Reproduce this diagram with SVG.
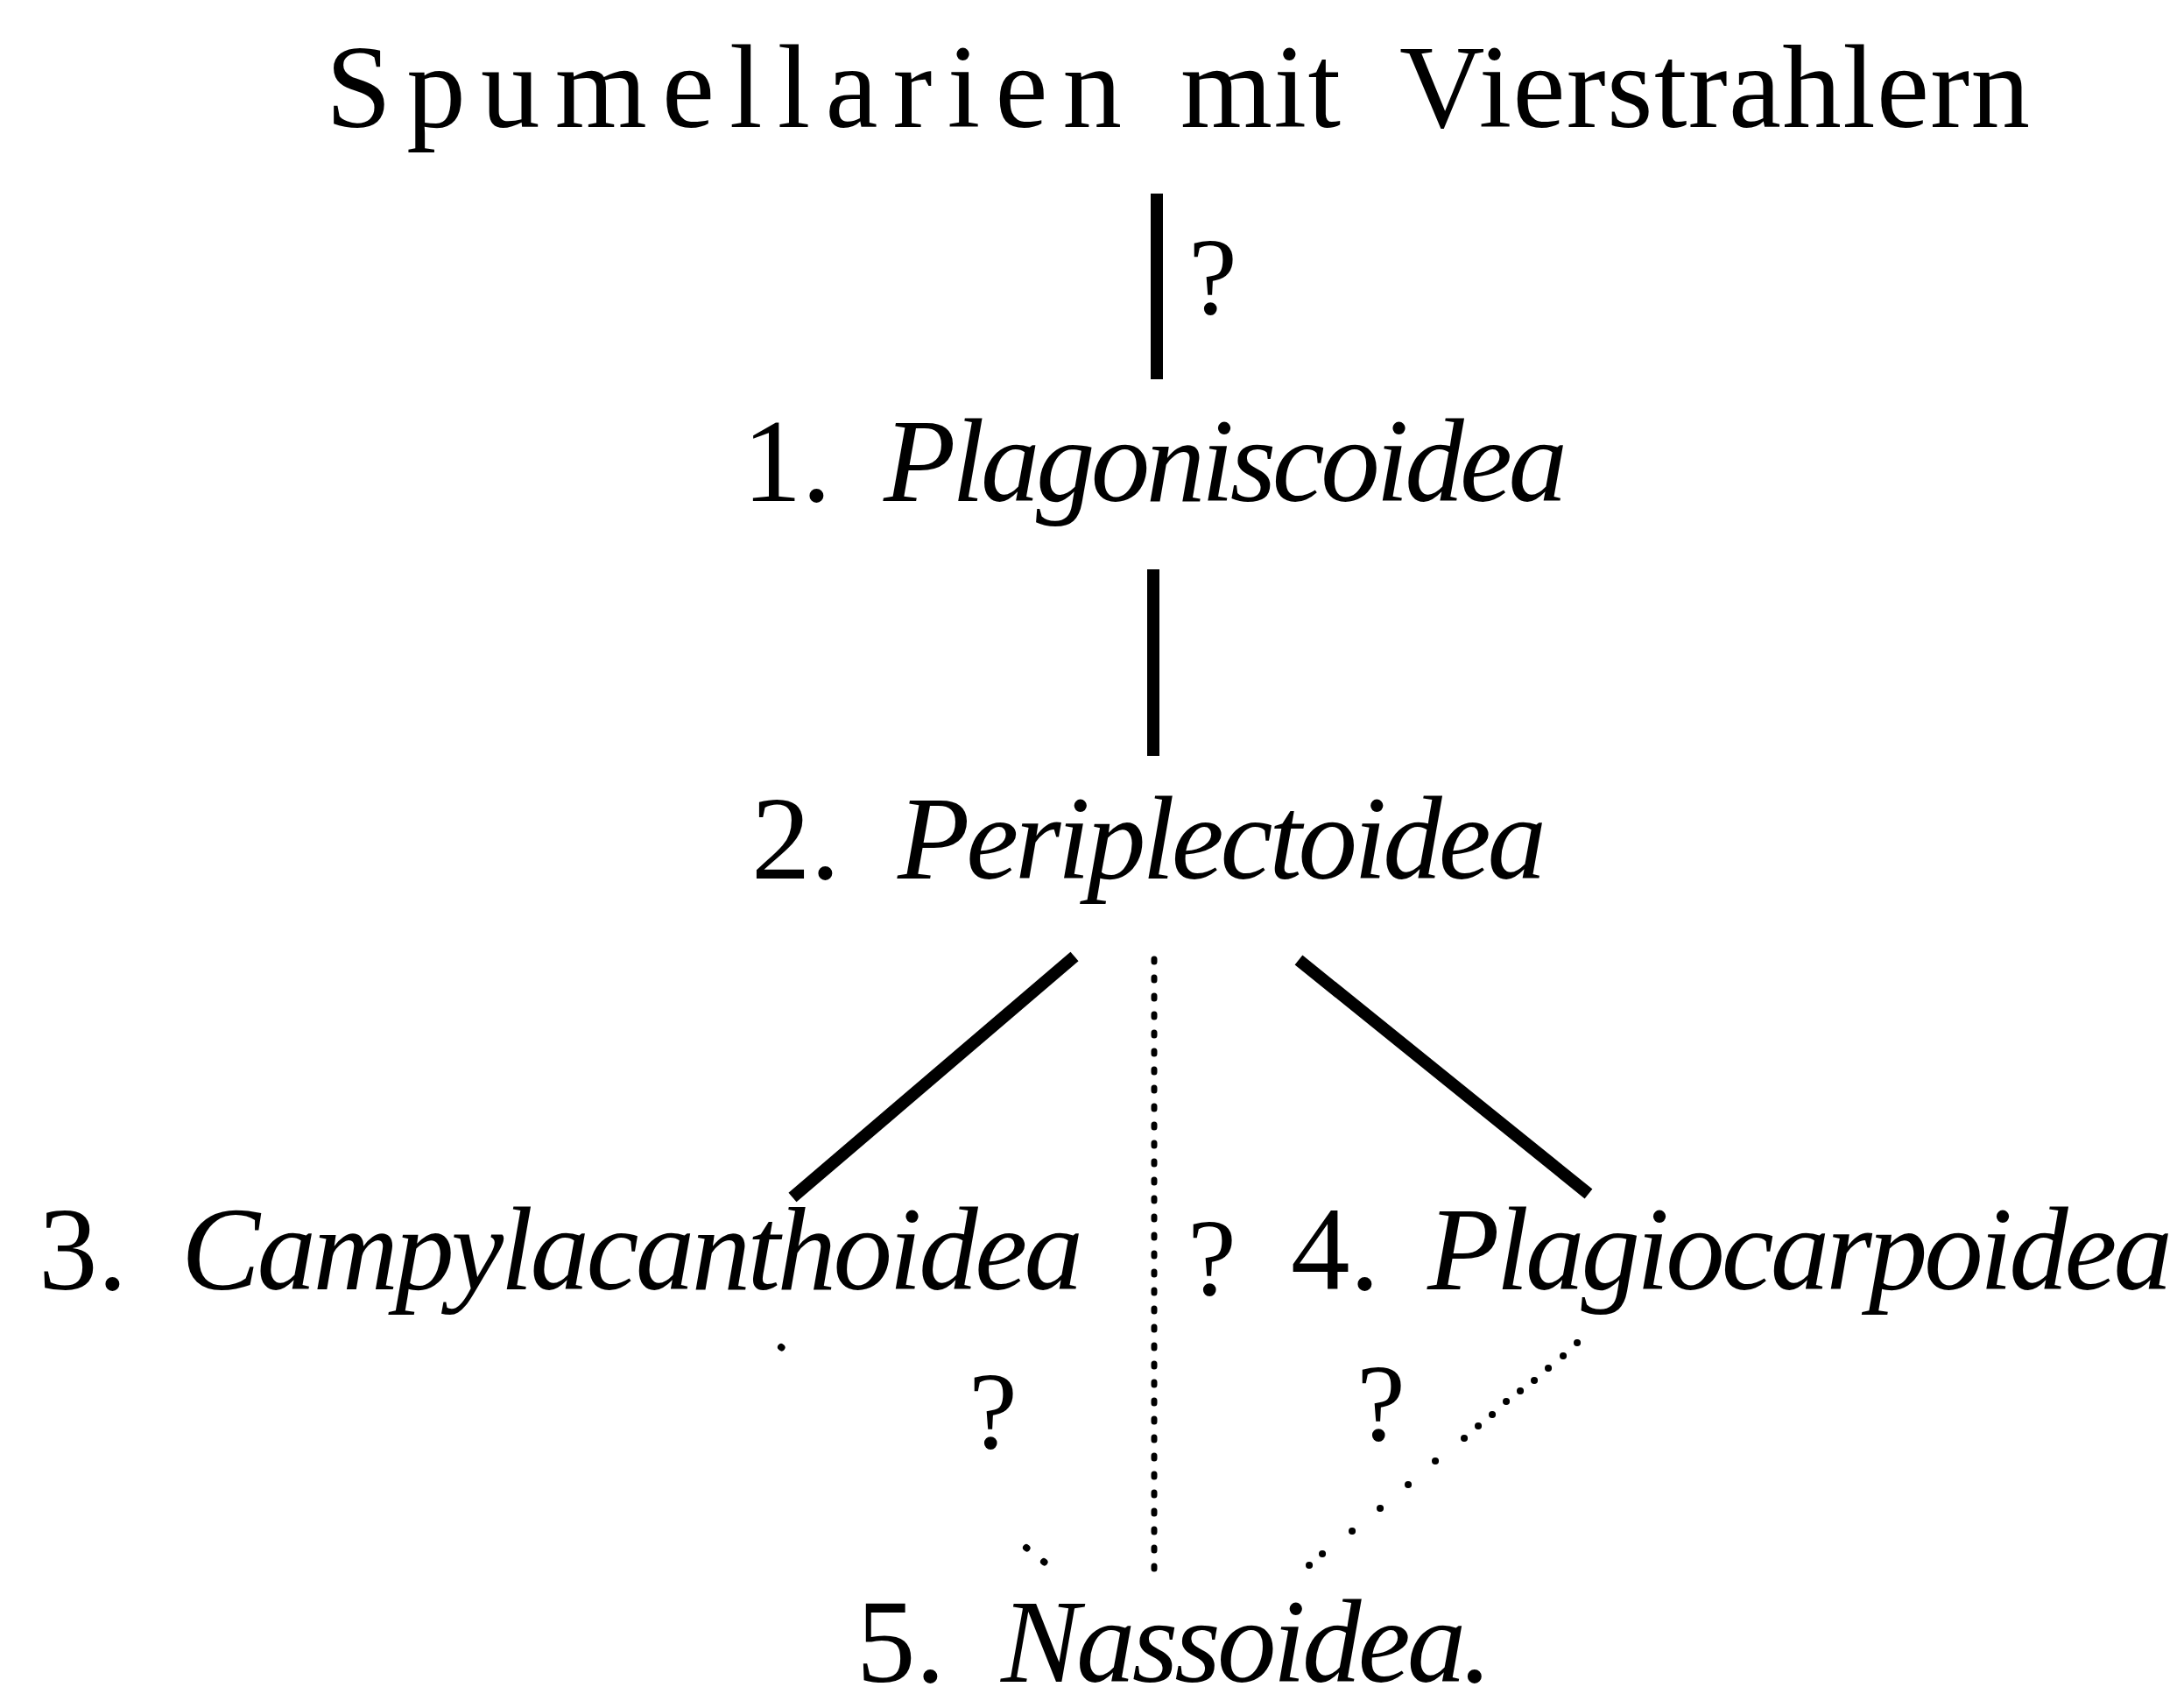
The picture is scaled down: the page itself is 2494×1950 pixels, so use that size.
<svg xmlns="http://www.w3.org/2000/svg" width="2494" height="1950" viewBox="0 0 2494 1950">
<style>
text { font-family: "Liberation Serif", "DejaVu Serif", serif; font-size: 135px; fill: #000; }
.it { font-style: italic; }
.q { font-size: 125px; text-anchor: middle; }
.solid { stroke: #000; stroke-width: 14; fill: none; stroke-linecap: butt; }
.dotv { stroke: #000; stroke-width: 7; fill: none; stroke-linecap: round; stroke-dasharray: 3 18; }
.dots { stroke: #000; stroke-width: 8; fill: none; stroke-linecap: round; }
</style>
<rect width="2494" height="1950" fill="#fff"/>

<g id="title">
  <text x="372" y="145" textLength="909" lengthAdjust="spacing">Spumellarien</text>
  <text x="1348" y="145" textLength="183" lengthAdjust="spacing">mit</text>
  <text x="1598" y="145" textLength="720" lengthAdjust="spacing">Vierstrahlern</text>
</g>

<g id="node1">
  <text x="848" y="572">1.</text>
  <text class="it" x="1009" y="572" textLength="781" lengthAdjust="spacing">Plagoniscoidea</text>
</g>

<g id="node2">
  <text x="858" y="1003">2.</text>
  <text class="it" x="1025" y="1003" textLength="741" lengthAdjust="spacing">Periplectoidea</text>
</g>

<g id="node3">
  <text x="44" y="1472">3.</text>
  <text class="it" x="207" y="1472" textLength="1030" lengthAdjust="spacing">Campylacanthoidea</text>
</g>

<g id="node4">
  <text x="1474" y="1472">4.</text>
  <text class="it" x="1630" y="1472" textLength="851" lengthAdjust="spacing">Plagiocarpoidea</text>
</g>

<g id="node5">
  <text x="978" y="1920">5.</text>
  <text class="it" x="1143" y="1920" textLength="561" lengthAdjust="spacing">Nassoidea.</text>
</g>

<g id="connectors">
  <line class="solid" x1="1321" y1="221" x2="1321" y2="433"/>
  <line class="solid" x1="1317" y1="650" x2="1317" y2="863"/>
  <line class="solid" x1="1227" y1="1092" x2="905" y2="1367"/>
  <line class="solid" x1="1483" y1="1096" x2="1814" y2="1363"/>
  <line class="dotv" x1="1318" y1="1095" x2="1318" y2="1793"/>
  <path class="dots" d="M892 1538 l0.5 0.4 M1172 1767 l0.5 0.4 M1192 1783 l0.5 0.4"/>
  <path class="dots" d="M1801 1533 h0.1 M1785 1548 h0.1 M1768 1562 h0.1 M1752 1576 h0.1 M1736 1588 h0.1 M1720 1600 h0.1 M1704 1615 h0.1 M1688 1628 h0.1 M1672 1642 h0.1 M1639 1668 h0.1 M1608 1695 h0.1 M1576 1722 h0.1 M1544 1748 h0.1 M1510 1774 h0.1 M1495 1787 h0.1"/>
</g>

<g id="labels">
  <text class="q" x="1385" y="358">?</text>
  <text class="q" x="1384" y="1478">?</text>
  <text class="q" x="1134" y="1653">?</text>
  <text class="q" x="1577" y="1644">?</text>
</g>
</svg>
